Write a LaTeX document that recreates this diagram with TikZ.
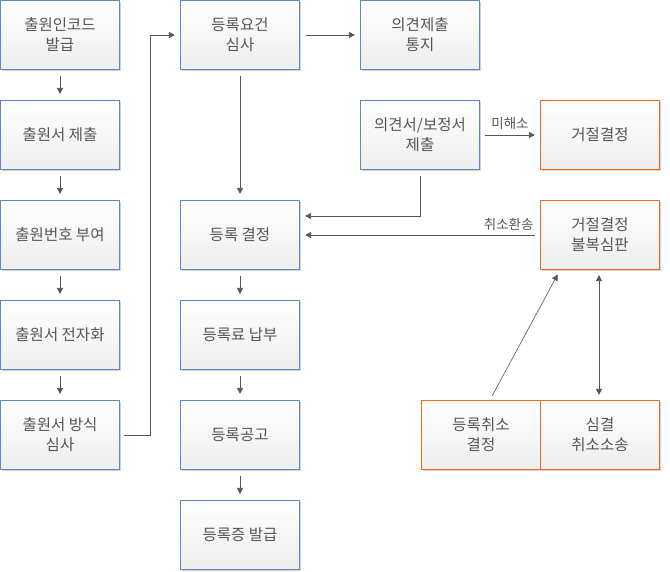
\documentclass[tikz,border=0pt]{standalone}
\usepackage{fontspec}
\setmainfont{Noto Sans CJK KR}
\usetikzlibrary{arrows.meta,shadows}
\definecolor{boxblue}{HTML}{5B8AC6}
\definecolor{boxorange}{HTML}{F26A1B}
\definecolor{txt}{HTML}{555555}
\definecolor{arrc}{HTML}{555555}
\tikzset{
  box/.style={draw=boxblue, line width=1.2pt, top color=white, bottom color=black!7,
    minimum width=119pt, minimum height=69pt, inner sep=0pt, align=center, text=txt,
    font=\fontsize{15.5}{20}\selectfont,
    drop shadow={shadow xshift=1.2pt, shadow yshift=-1.2pt, fill=black, opacity=0.18}},
  obox/.style={box, draw=boxorange},
  arr/.style={draw=arrc, line width=0.8pt, -{Triangle[length=6pt,width=6pt]}},
  darr/.style={draw=arrc, line width=0.8pt, {Triangle[length=6pt,width=6pt]}-{Triangle[length=6pt,width=6pt]}},
  lab/.style={text=txt, font=\fontsize{13.5}{15}\selectfont, inner sep=1pt}
}
\begin{document}
\begin{tikzpicture}[x=1pt,y=-1pt]
\useasboundingbox (0,0) rectangle (670,572);
\node[box] (a1) at (60,35) {출원인코드\\발급};
\node[box] (a2) at (60,135) {출원서 제출};
\node[box] (a3) at (60,235) {출원번호 부여};
\node[box] (a4) at (60,335) {출원서 전자화};
\node[box] (a5) at (60,435) {출원서 방식\\심사};
\node[box] (b1) at (240,35) {등록요건\\심사};
\node[box] (b2) at (240,235) {등록 결정};
\node[box] (b3) at (240,335) {등록료 납부};
\node[box] (b4) at (240,435) {등록공고};
\node[box] (b5) at (240,535) {등록증 발급};
\node[box] (c1) at (420,35) {의견제출\\통지};
\node[box] (c2) at (420,135) {의견서/보정서\\제출};
\node[obox] (d1) at (600,135) {거절결정};
\node[obox] (d2) at (600,235) {거절결정\\불복심판};
\node[obox] (e1) at (481,435) {등록취소\\결정};
\node[obox] (e2) at (600,435) {심결\\취소소송};

\draw[arr, shorten <=6pt, shorten >=6pt] (a1) -- (a2);
\draw[arr, shorten <=6pt, shorten >=6pt] (a2) -- (a3);
\draw[arr, shorten <=6pt, shorten >=6pt] (a3) -- (a4);
\draw[arr, shorten <=6pt, shorten >=6pt] (a4) -- (a5);
\draw[arr, shorten <=4pt, shorten >=5pt] (a5.east) -- ++(30,0) |- (b1.west);
\draw[arr, shorten <=6pt, shorten >=5pt] (b1) -- (c1);
\draw[arr, shorten <=6pt, shorten >=6pt] (b1) -- (b2);
\draw[arr, shorten <=6pt, shorten >=6pt] (b2) -- (b3);
\draw[arr, shorten <=6pt, shorten >=6pt] (b3) -- (b4);
\draw[arr, shorten <=6pt, shorten >=6pt] (b4) -- (b5);
\draw[arr, shorten <=6pt, shorten >=5pt] (c2.south) |- ([yshift=19pt]b2.east);
\draw[arr, shorten <=5pt, shorten >=5pt] (d2.west) -- (b2.east)
  node[lab, pos=0.13, above=3pt] {취소환송};
\draw[arr, shorten <=5pt, shorten >=5pt] (c2.east) -- (d1.west)
  node[lab, midway, above=4pt] {미해소};
\draw[arr, draw=arrc, line width=0.6pt, shorten <=5pt, shorten >=5pt] ([xshift=9pt]e1.north) -- ([xshift=-40pt]d2.south);
\draw[darr, shorten <=5pt, shorten >=5pt] ([xshift=-1pt]d2.south) -- ([xshift=-1pt]e2.north);
\end{tikzpicture}
\end{document}
